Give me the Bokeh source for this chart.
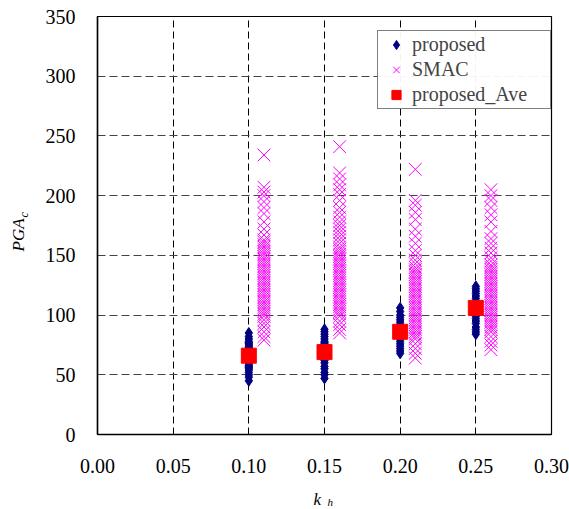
import math
from bokeh.plotting import figure
from bokeh.models import Range1d, Legend, LegendItem, FixedTicker
from bokeh.layouts import row, column
from bokeh.core.properties import value
from bokeh.embed import file_html
from bokeh.resources import INLINE

# ---- data ----
kh_proposed = [0.10, 0.15, 0.20, 0.25]
kh_smac = [0.11, 0.16, 0.21, 0.26]

proposed_010 = [45, 48, 50, 52, 54, 55, 56, 57, 58, 59, 60, 61, 62, 63, 64, 65, 66, 67, 68, 69,
                70, 71, 72, 73, 74, 75, 76, 77, 78, 80, 82, 85]
proposed_015 = [47, 50, 52, 55, 57, 60, 62, 64, 65, 66, 67, 68, 69, 70, 71, 72, 73, 74, 75, 76,
                77, 78, 80, 82, 84, 86, 88]
proposed_020 = [68, 70, 72, 74, 76, 78, 80, 82, 83, 84, 85, 86, 87, 88, 89, 90, 91, 92, 94, 96,
                98, 100, 103, 106]
proposed_025 = [84, 86, 88, 90, 93, 95, 97, 99, 100, 102, 103, 104, 105, 106, 107, 108, 109, 110,
                112, 114, 116, 118, 120, 122, 124]

smac_011 = [79, 82, 86, 90, 93, 96, 99, 101, 103, 105, 107, 109, 111, 113, 115, 117, 119, 121, 123,
            125, 127, 129, 131, 133, 135, 137, 139, 141, 143, 145, 147, 149, 151, 153, 155, 157, 159,
            161, 163, 167, 172, 178, 185, 190, 195, 200, 203, 207, 234]
smac_016 = [85, 88, 92, 95, 99, 101, 103, 105, 107, 109, 111, 113, 115, 117, 119, 121, 123, 125, 127,
            129, 131, 133, 135, 137, 139, 141, 143, 145, 147, 149, 151, 153, 155, 157, 160, 163, 166,
            169, 172, 175, 178, 182, 186, 190, 196, 201, 205, 209, 214, 219, 241]
smac_021 = [64, 68, 72, 76, 80, 82, 84, 86, 88, 90, 92, 94, 96, 98, 100, 102, 104, 106, 108, 110, 112,
            114, 116, 118, 120, 122, 124, 126, 128, 130, 132, 134, 136, 138, 140, 143, 146, 150, 154,
            160, 166, 172, 180, 186, 192, 196, 222]
smac_026 = [71, 75, 78, 82, 86, 88, 90, 92, 94, 96, 98, 100, 102, 104, 106, 108, 110, 112, 114, 116,
            118, 120, 122, 124, 126, 128, 130, 132, 134, 136, 138, 140, 142, 145, 148, 152, 156, 160,
            164, 170, 178, 184, 190, 196, 200, 205]

proposed_ave = [66, 69, 86, 106]

x_ticks = [0.00, 0.05, 0.10, 0.15, 0.20, 0.25, 0.30]
x_tick_labels = ["0.00", "0.05", "0.10", "0.15", "0.20", "0.25", "0.30"]
y_ticks = [0, 50, 100, 150, 200, 250, 300, 350]

series_names = ["proposed", "SMAC", "proposed_Ave"]
x_title, x_sub = "k", "h"
y_title, y_sub = "PGA", "c"

proposed_groups = [proposed_010, proposed_015, proposed_020, proposed_025]
smac_groups = [smac_011, smac_016, smac_021, smac_026]

px, py = [], []
for k, vals in zip(kh_proposed, proposed_groups):
    px += [k] * len(vals)
    py += vals
sx, sy = [], []
for k, vals in zip(kh_smac, smac_groups):
    sx += [k] * len(vals)
    sy += vals

FONT = "Liberation Serif"

# ---- main chart ----
p = figure(frame_width=454, frame_height=418, output_backend="svg", toolbar_location=None,
           x_range=Range1d(0, 0.30), y_range=Range1d(0, 350),
           min_border_left=65, min_border_right=18, min_border_top=16, min_border_bottom=50)
p.background_fill_color = "white"
p.border_fill_color = "white"
p.outline_line_color = "black"
p.outline_line_width = 1.2

r1 = p.scatter(px, py, marker="diamond", size=11, fill_color="#000080", line_color="#000080")
r2 = p.scatter(sx, sy, marker="x", size=18, line_color="#FF00FF", line_width=1)
r3 = p.scatter(kh_proposed, proposed_ave, marker="square", size=15, fill_color="#FF0000",
               line_color="#FF0000")

p.xaxis.ticker = FixedTicker(ticks=x_ticks)
p.xaxis.major_label_overrides = {t: l for t, l in zip(x_ticks, x_tick_labels)}
p.yaxis.ticker = FixedTicker(ticks=y_ticks)
for ax in (p.xaxis, p.yaxis):
    ax.major_tick_in = 0
    ax.major_tick_out = 0
    ax.minor_tick_in = 0
    ax.minor_tick_out = 0
    ax.axis_line_color = "black"
    ax.axis_line_width = 1.5
    ax.major_label_text_font = FONT
    ax.major_label_text_font_size = "20px"
    ax.major_label_text_color = "black"
p.xaxis.major_label_standoff = 24
p.yaxis.major_label_standoff = 22

p.xgrid.grid_line_color = "black"
p.xgrid.grid_line_dash = "7 4"
p.xgrid.grid_line_width = 1
p.ygrid.grid_line_color = "#444444"
p.ygrid.grid_line_dash = "8 4"
p.ygrid.grid_line_width = 1

legend = Legend(items=[LegendItem(label=series_names[0], renderers=[r1]),
                       LegendItem(label=series_names[1], renderers=[r2]),
                       LegendItem(label=series_names[2], renderers=[r3])],
                location=(280, 325))
legend.label_text_font = FONT
legend.label_text_font_size = "20px"
legend.border_line_color = "black"
legend.border_line_width = 1
legend.padding = 2
legend.spacing = 2
legend.label_height = 23
legend.glyph_height = 23
legend.glyph_width = 32
legend.label_width = 136
legend.label_standoff = 0
legend.margin = 0
p.add_layout(legend)


def strip(w, h, xr, yr):
    f = figure(width=w, height=h, x_range=xr, y_range=yr,
               min_border_left=0, min_border_right=0, min_border_top=0, min_border_bottom=0,
               x_axis_location=None, y_axis_location=None, toolbar_location=None,
               output_backend="svg")
    f.grid.visible = False
    f.outline_line_color = None
    f.background_fill_color = "white"
    f.border_fill_color = "white"
    return f


# ---- y axis title strip (left) ----
fy = strip(32, 509, Range1d(0, 32), Range1d(0, 509))
fy.text(x=[18], y=[258], text=[y_title], angle=math.pi / 2, text_font=value(FONT),
        text_font_style="italic", text_font_size="17px", text_baseline="middle",
        text_align="left", text_color="black")
fy.text(x=[23], y=[292], text=[y_sub], angle=math.pi / 2, text_font=value(FONT),
        text_font_style="italic", text_font_size="12px", text_baseline="middle",
        text_align="left", text_color="black")

# ---- x axis title strip (bottom); its frame is aligned with the chart's frame ----
fx = strip(537, 25, Range1d(0, 0.30), Range1d(0, 25))
fx.text(x=[0.1427], y=[10], text=[x_title], text_font=value(FONT),
        text_font_style="italic", text_font_size="17px", text_baseline="alphabetic",
        text_align="left", text_color="black")
fx.text(x=[0.1520], y=[8], text=[x_sub], text_font=value(FONT),
        text_font_style="italic", text_font_size="11px", text_baseline="alphabetic",
        text_align="left", text_color="black")

layout = row(fy, column(p, fx, spacing=0), spacing=0)

open("out.html", "w").write(file_html(layout, INLINE))
